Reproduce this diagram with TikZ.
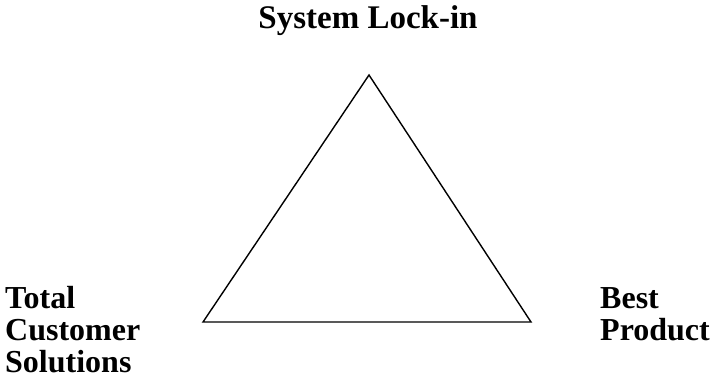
\documentclass[tikz,border=0pt]{standalone}
\usepackage{fontspec}
\setmainfont{Liberation Serif}
\begin{document}
\begin{tikzpicture}[x=1pt,y=-1pt,
  lbl/.style={font=\fontsize{32}{32}\selectfont\bfseries,inner sep=0pt,align=left},
  edge/.style={draw=black,line width=1.4pt,line join=miter}]
\useasboundingbox (0,0) rectangle (711,381);
\coordinate (T) at (369,75);
\coordinate (L) at (203,322);
\coordinate (R) at (531,322);
\draw[edge] (T) -- (L) -- (R) -- cycle;
\node[lbl,font=\fontsize{33}{33}\selectfont\bfseries,anchor=base] (top) at (368,28) {System Lock-in};
\node[lbl,anchor=base west] (left) at (5,372) {Total\\Customer\\Solutions};
\node[lbl,anchor=base west] (right) at (600,340) {Best\\Product};
\end{tikzpicture}
\end{document}
